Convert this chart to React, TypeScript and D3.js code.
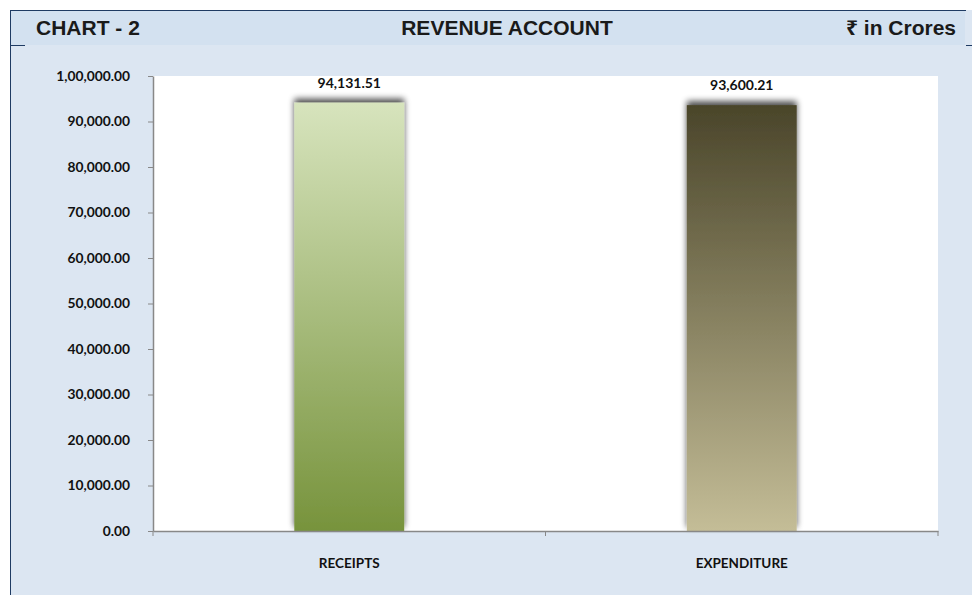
import React, { useEffect, useRef } from "react";
import * as d3 from "d3";

const categories = ["RECEIPTS", "EXPENDITURE"];
const values = [94131.51, 93600.21];
const yTicks = [0, 10000, 20000, 30000, 40000, 50000, 60000, 70000, 80000, 90000, 100000];
const gradStops = [
  ["#d7e4bd", "#77933c"],
  ["#4a452a", "#c4bd97"],
];

const fmt = (v: number) => {
  // Indian grouping, 2 decimals
  const [int, dec] = v.toFixed(2).split(".");
  let last3 = int.slice(-3);
  let rest = int.slice(0, -3);
  if (rest) last3 = "," + last3;
  rest = rest.replace(/\B(?=(\d{2})+(?!\d))/g, ",");
  return rest + last3 + "." + dec;
};

export default function App() {
  const ref = useRef<SVGSVGElement>(null);

  useEffect(() => {
    const svg = d3.select(ref.current);
    svg.selectAll("*").remove();
    const W = 972, H = 595;
    const margin = { top: 76, left: 153 };
    const width = 938 - margin.left;
    const height = 531 - margin.top;
    const font = "Lato, 'Open Sans', sans-serif";

    const defs = svg.append("defs");
    gradStops.forEach((s, i) => {
      const g = defs.append("linearGradient").attr("id", "grad" + i)
        .attr("x1", 0).attr("y1", 0).attr("x2", 0).attr("y2", 1);
      g.append("stop").attr("offset", "0%").attr("stop-color", s[0]);
      g.append("stop").attr("offset", "100%").attr("stop-color", s[1]);
    });
    const f = defs.append("filter").attr("id", "shadow")
      .attr("x", "-20%").attr("y", "-10%").attr("width", "140%").attr("height", "120%");
    f.append("feGaussianBlur").attr("in", "SourceAlpha").attr("stdDeviation", 3).attr("result", "b");
    f.append("feOffset").attr("in", "b").attr("dy", -4).attr("result", "o");
    f.append("feComponentTransfer").attr("in", "o").attr("result", "c")
      .append("feFuncA").attr("type", "linear").attr("slope", 0.7);
    const m = f.append("feMerge");
    m.append("feMergeNode").attr("in", "c");
    m.append("feMergeNode").attr("in", "SourceGraphic");

    // background
    svg.append("rect").attr("x", 0).attr("y", 0).attr("width", W).attr("height", H).attr("fill", "#ffffff");
    svg.append("rect").attr("x", 10).attr("y", 10).attr("width", W - 10).attr("height", H - 10).attr("fill", "#dce6f2");
    svg.append("rect").attr("x", 10).attr("y", 10).attr("width", 955).attr("height", 35).attr("fill", "#d3e1f0");
    svg.append("line").attr("x1", 10).attr("x2", 966).attr("y1", 10.5).attr("y2", 10.5).attr("stroke", "#1f3b63");
    svg.append("line").attr("x1", 10.5).attr("x2", 10.5).attr("y1", 10).attr("y2", H).attr("stroke", "#1f3b63");
    svg.append("line").attr("x1", 10).attr("x2", 25).attr("y1", 45.5).attr("y2", 45.5).attr("stroke", "#1f3b63");
    svg.append("line").attr("x1", 966).attr("x2", 972).attr("y1", 45.5).attr("y2", 45.5).attr("stroke", "#1f3b63");

    const hdr = { "font-family": "Arial, 'Liberation Sans', 'Noto Sans', sans-serif", "font-weight": "bold", "font-size": 21, fill: "#1a1a1a" };
    const t1 = svg.append("text").attr("x", 36).attr("y", 35).text("CHART - 2");
    const t2 = svg.append("text").attr("x", 507).attr("y", 35).attr("text-anchor", "middle").text("REVENUE ACCOUNT");
    const t3 = svg.append("text").attr("x", 956).attr("y", 35).attr("text-anchor", "end").text("₹ in Crores");
    [t1, t2, t3].forEach(t => Object.entries(hdr).forEach(([k, v]) => t.attr(k, v as any)));

    const g = svg.append("g").attr("transform", `translate(${margin.left},${margin.top})`);
    g.append("rect").attr("width", width).attr("height", height).attr("fill", "#ffffff");

    const x = d3.scaleBand().domain(categories).range([0, width]).paddingInner(0.72).paddingOuter(0.36);
    const y = d3.scaleLinear().domain([0, 100000]).range([height, 0]);
    const xb = d3.scaleBand().domain(categories).range([0, width]);

    g.selectAll("rect.bar").data(values).join("rect").attr("class", "bar")
      .attr("x", (d, i) => xb(categories[i])! + xb.bandwidth() / 2 - x.bandwidth() / 2)
      .attr("y", d => y(d))
      .attr("width", x.bandwidth())
      .attr("height", d => height - y(d))
      .attr("fill", (d, i) => `url(#grad${i})`)
      .attr("filter", "url(#shadow)");

    g.selectAll("text.lbl").data(values).join("text").attr("class", "lbl")
      .attr("x", (d, i) => xb(categories[i])! + xb.bandwidth() / 2)
      .attr("y", d => y(d) - 15)
      .attr("text-anchor", "middle")
      .attr("font-family", font)
      .attr("font-weight", "bold").attr("font-size", 14).attr("fill", "#111")
      .text(d => fmt(d));

    const yAxis = g.append("g").call(d3.axisLeft(y).tickValues(yTicks).tickSize(5).tickSizeOuter(0).tickFormat(d => fmt(+d)));
    yAxis.select(".domain").attr("stroke", "#888").attr("stroke-width", 1.5);
    yAxis.selectAll(".tick line").attr("stroke", "#888");
    yAxis.selectAll(".tick text").attr("x", -23).attr("font-family", font)
      .attr("font-weight", "bold").attr("font-size", 13.8).attr("fill", "#111");

    const xAxis = g.append("g").attr("transform", `translate(0,${height})`)
      .call(d3.axisBottom(xb).tickSize(0).tickSizeOuter(0));
    xAxis.select(".domain").attr("stroke", "#888").attr("stroke-width", 1.5);
    xAxis.selectAll(".tick text").attr("dy", 0).attr("y", 37).attr("font-family", font)
      .attr("font-weight", "bold").attr("font-size", 13.5).attr("fill", "#111");
    [0, 1, 2].forEach(i => {
      xAxis.append("line").attr("x1", i * xb.step()).attr("x2", i * xb.step())
        .attr("y1", 0).attr("y2", 5).attr("stroke", "#888");
    });
  }, []);

  return <svg ref={ref} width={972} height={595} style={{ display: "block", position: "absolute", left: 0, top: 0 }} />;
}
